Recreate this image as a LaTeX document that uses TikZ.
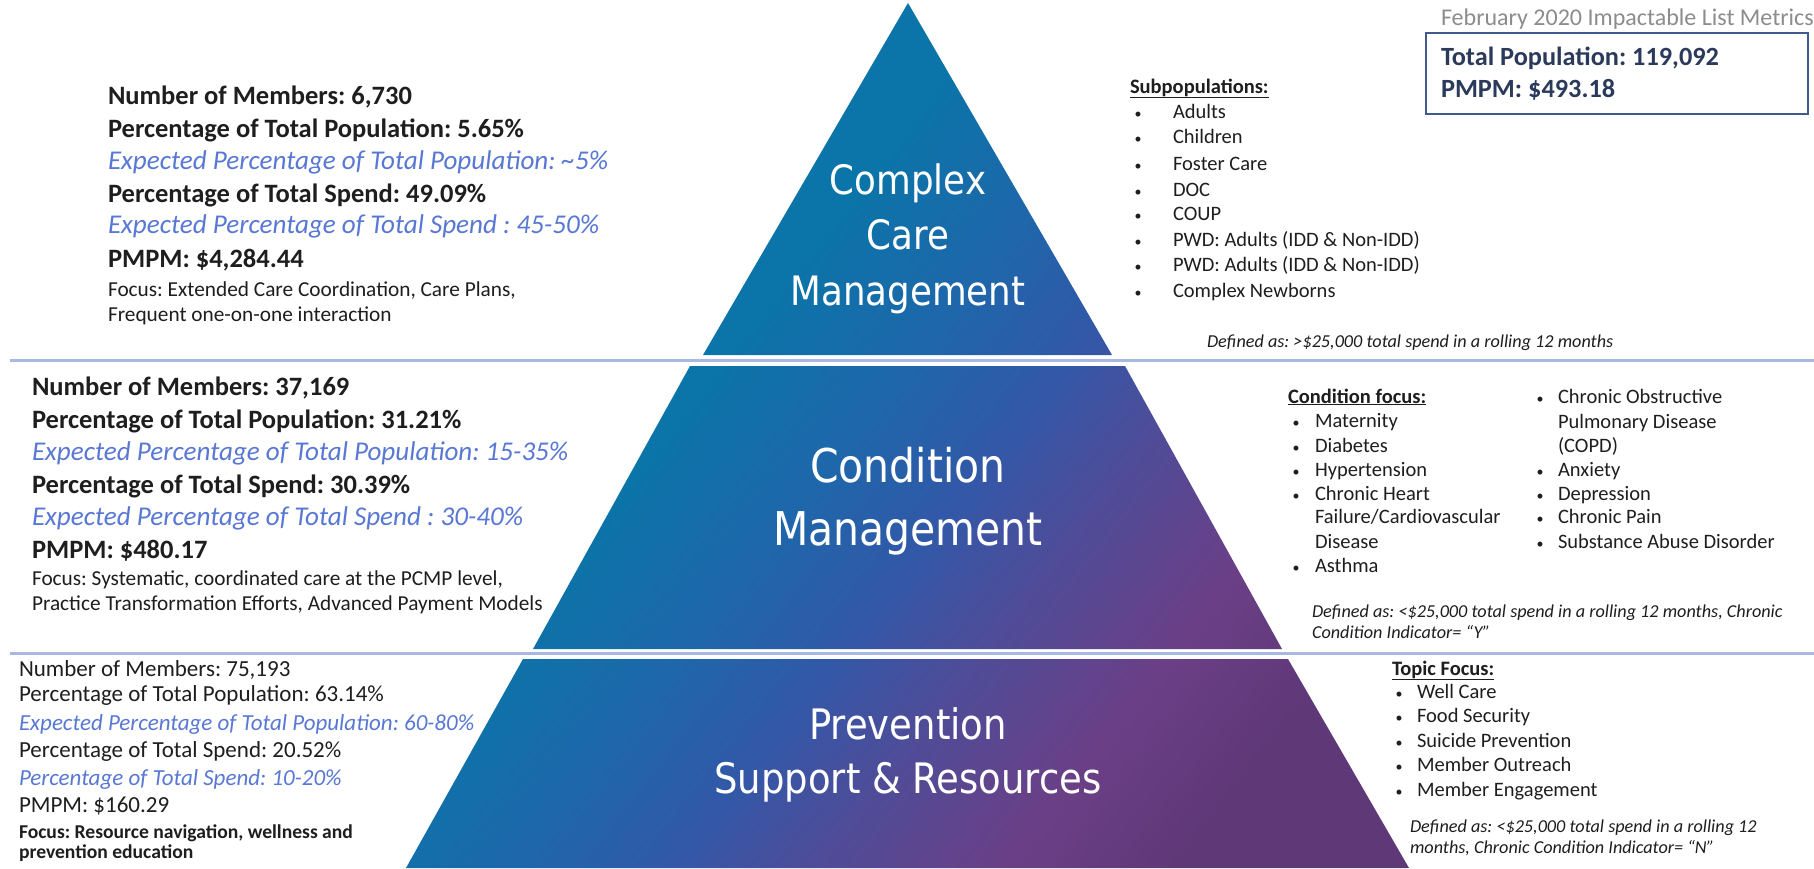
\documentclass[tikz,border=0pt]{standalone}
\usepackage{fontspec}
\setmainfont{Carlito}
\newfontfamily\pyrfont[FakeStretch=0.88]{DejaVu Sans}
\frenchspacing
\definecolor{cA}{HTML}{0B74A8}
\definecolor{cB}{HTML}{1F66AA}
\definecolor{cC}{HTML}{3258A8}
\definecolor{cD}{HTML}{4F4C98}
\definecolor{cE}{HTML}{6B3F86}
\definecolor{cF}{HTML}{5F3878}
\definecolor{ink}{HTML}{1E1E1E}
\definecolor{expblue}{HTML}{5878D4}
\definecolor{sepblue}{HTML}{A7B8E2}
\definecolor{graytxt}{HTML}{8C8C8C}
\definecolor{boxblue}{HTML}{3F5A8C}
\definecolor{boxtxt}{HTML}{2B3A5A}
\newcommand\mybullet{{\fontsize{14}{14}\selectfont •}}
\pgfdeclarehorizontalshading{pyrshade}{100bp}{color(0bp)=(cA); color(40bp)=(cA); color(48bp)=(cB); color(54bp)=(cC); color(60bp)=(cD); color(68bp)=(cE); color(75bp)=(cF); color(100bp)=(cF)}
\tikzset{
  ln/.style={anchor=base west, inner sep=0pt, outer sep=0pt, text=ink},
  bigb/.style={ln, font=\fontsize{26.5}{30}\selectfont\bfseries},
  bigi/.style={ln, text=expblue, font=\fontsize{27.1}{30}\selectfont\itshape},
  focA/.style={ln, font=\fontsize{21.3}{24}\selectfont},
  smalltxt/.style={ln, font=\fontsize{23}{26}\selectfont},
  smalli/.style={ln, text=expblue, font=\fontsize{23}{26}\selectfont\itshape},
  focB/.style={ln, font=\fontsize{19.6}{22}\selectfont\bfseries},
  hdr/.style={ln, font=\fontsize{20.5}{24}\selectfont\bfseries},
  listitem/.style={ln, font=\fontsize{20.5}{24}\selectfont},
  bulletmark/.style={anchor=base, inner sep=0pt, outer sep=0pt, text=ink},
  defn/.style={ln, font=\fontsize{18.2}{21}\selectfont\itshape},
  pyrlab/.style={anchor=base, inner sep=0pt, text=white},
  sepline/.style={draw=sepblue, line width=3pt},
  tiershade/.style={shading=pyrshade, shading angle=-38},
}
\begin{document}
\begin{tikzpicture}[x=1pt, y=-1pt]
\useasboundingbox (0,0) rectangle (1814,868);
\fill[white] (0,0) rectangle (1814,868);

% pyramid tiers
\begin{scope}
  \clip (908,3) -- (1112,355) -- (703,355) -- cycle;
  \shade[tiershade] (400,0) rectangle (1420,868);
\end{scope}
\begin{scope}
  \clip (690,366) -- (1125,366) -- (1282,649) -- (533,649) -- cycle;
  \shade[tiershade] (400,0) rectangle (1420,868);
\end{scope}
\begin{scope}
  \clip (523,659) -- (1288,659) -- (1409,868) -- (406,868) -- cycle;
  \shade[tiershade] (400,0) rectangle (1420,868);
\end{scope}

% separators
\draw[sepline] (10,360) -- (1814,360);
\draw[sepline] (10,653) -- (1814,653);

% pyramid labels
\node[pyrlab, font=\pyrfont\fontsize{40.5}{48}\selectfont] (p1) at (908,194) {Complex};
\node[pyrlab, font=\pyrfont\fontsize{40.5}{48}\selectfont] (p2) at (908,249) {Care};
\node[pyrlab, font=\pyrfont\fontsize{40.5}{48}\selectfont] (p3) at (908,305) {Management};
\node[pyrlab, font=\pyrfont\fontsize{46.5}{54}\selectfont] (p4) at (908,482) {Condition};
\node[pyrlab, font=\pyrfont\fontsize{46.5}{54}\selectfont] (p5) at (908,545) {Management};
\node[pyrlab, font=\pyrfont\fontsize{42}{50}\selectfont] (p6) at (908,739) {Prevention};
\node[pyrlab, font=\pyrfont\fontsize{42}{50}\selectfont] (p7) at (908,793) {Support \& Resources};

% top-left block
\node[bigb] (t1) at (108,104) {Number of Members: 6,730};
\node[bigb] (t2) at (108,137) {Percentage of Total Population: 5.65\%};
\node[bigi] (t3) at (108,169) {Expected Percentage of Total Population: \textasciitilde 5\%};
\node[bigb] (t4) at (108,202) {Percentage of Total Spend: 49.09\%};
\node[bigi] (t5) at (108,233) {Expected Percentage of Total Spend : 45-50\%};
\node[bigb] (t6) at (108,267) {PMPM: \$4,284.44};
\node[focA] (t7) at (108,296) {Focus: Extended Care Coordination, Care Plans,};
\node[focA] (t8) at (108,321) {Frequent one-on-one interaction};

% middle-left block
\node[bigb] (m1) at (32,395) {Number of Members: 37,169};
\node[bigb] (m2) at (32,428) {Percentage of Total Population: 31.21\%};
\node[bigi] (m3) at (32,460) {Expected Percentage of Total Population: 15-35\%};
\node[bigb] (m4) at (32,493) {Percentage of Total Spend: 30.39\%};
\node[bigi] (m5) at (32,525) {Expected Percentage of Total Spend : 30-40\%};
\node[bigb] (m6) at (32,558) {PMPM: \$480.17};
\node[focA] (m7) at (32,585) {Focus: Systematic, coordinated care at the PCMP level,};
\node[focA] (m8) at (32,610) {Practice Transformation Efforts, Advanced Payment Models};

% bottom-left block
\node[smalltxt] (b1) at (19,676) {Number of Members: 75,193};
\node[smalltxt] (b2) at (19,701) {Percentage of Total Population: 63.14\%};
\node[smalli] (b3) at (19,730) {Expected Percentage of Total Population: 60-80\%};
\node[smalltxt] (b4) at (19,757) {Percentage of Total Spend: 20.52\%};
\node[smalli] (b5) at (19,785) {Percentage of Total Spend: 10-20\%};
\node[smalltxt] (b6) at (19,812) {PMPM: \$160.29};
\node[focB] (b7) at (19,838) {Focus: Resource navigation, wellness and};
\node[focB] (b8) at (19,858) {prevention education};

% metrics box
\node[ln, text=graytxt, font=\fontsize{24}{28}\selectfont] (febtitle) at (1441,25) {February 2020 Impactable List Metrics};
\node[draw=boxblue, line width=2pt, anchor=north west, minimum width=382pt, minimum height=81pt, inner sep=0pt] (metricbox) at (1425,32) {};
\node[ln, text=boxtxt, font=\fontsize{26.3}{30}\selectfont\bfseries] (totpop) at (1441,65) {Total Population: 119,092};
\node[ln, text=boxtxt, font=\fontsize{26.3}{30}\selectfont\bfseries] (totpmpm) at (1441,97) {PMPM: \$493.18};

% subpopulations
\node[hdr] (sphdr) at (1130,93) {\underline{Subpopulations:}};
\foreach \y/\t [count=\i] in {118/Adults, 143/Children, 170/Foster Care, 196/DOC, 220/COUP, 246/{PWD: Adults (IDD \& Non-IDD)}, 271/{PWD: Adults (IDD \& Non-IDD)}, 297/Complex Newborns}{
  \node[bulletmark] (spb\i) at (1138,\y) {\mybullet};
  \node[listitem] (spt\i) at (1173,\y) {\t};
}
\node[defn] (spdef) at (1207,347) {Defined as: >\$25,000 total spend in a rolling 12 months};

% condition focus
\node[hdr] (cfhdr) at (1288,403) {\underline{Condition focus:}};
\foreach \y/\t [count=\i] in {427/Maternity, 452/Diabetes, 476/Hypertension, 500/Chronic Heart, 572/Asthma}{
  \node[bulletmark] (cfb\i) at (1296,\y) {\mybullet};
  \node[listitem] (cft\i) at (1315,\y) {\t};
}
\node[listitem] (cfc1) at (1315,523) {Failure/Cardiovascular};
\node[listitem] (cfc2) at (1315,548) {Disease};
\foreach \y/\t [count=\i] in {403/Chronic Obstructive, 476/Anxiety, 500/Depression, 523/Chronic Pain, 548/Substance Abuse Disorder}{
  \node[bulletmark] (crb\i) at (1540,\y) {\mybullet};
  \node[listitem] (crt\i) at (1558,\y) {\t};
}
\node[listitem] (crc1) at (1558,428) {Pulmonary Disease};
\node[listitem] (crc2) at (1558,452) {(COPD)};
\node[defn] (cfdef1) at (1312,617) {Defined as: <\$25,000 total spend in a rolling 12 months, Chronic};
\node[defn] (cfdef2) at (1312,638) {Condition Indicator= “Y”};

% topic focus
\node[hdr] (tfhdr) at (1392,675) {\underline{Topic Focus:}};
\foreach \y/\t [count=\i] in {698/Well Care, 722/Food Security, 747/Suicide Prevention, 771/Member Outreach, 796/Member Engagement}{
  \node[bulletmark] (tfb\i) at (1399,\y) {\mybullet};
  \node[listitem] (tft\i) at (1417,\y) {\t};
}
\node[defn] (tfdef1) at (1410,832) {Defined as: <\$25,000 total spend in a rolling 12};
\node[defn] (tfdef2) at (1410,853) {months, Chronic Condition Indicator= “N”};
\end{tikzpicture}
\end{document}
